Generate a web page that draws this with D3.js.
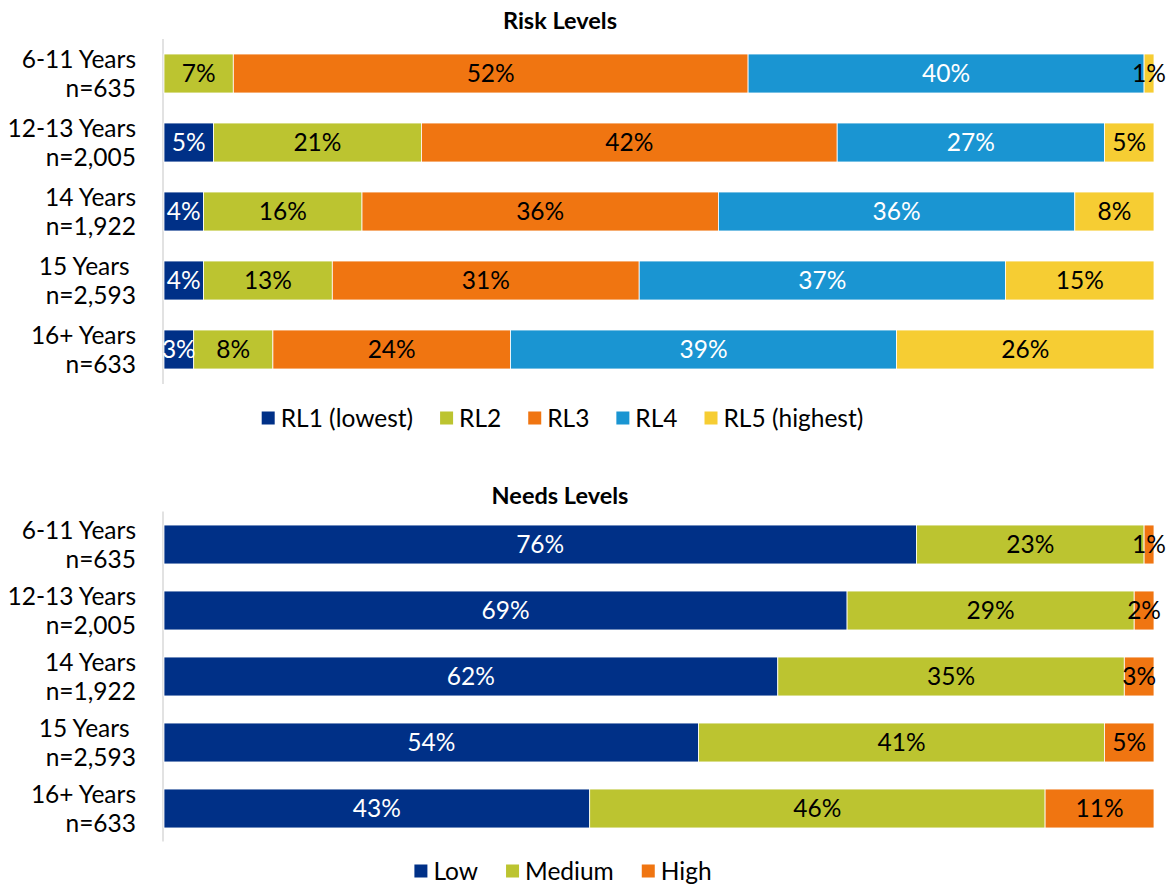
<!DOCTYPE html>
<html><head><meta charset="utf-8">
<script src="https://cdn.jsdelivr.net/npm/d3@7"></script>
<style>
body{margin:0;background:#fff;}
text{font-family:Lato,"Open Sans",sans-serif;}
</style></head>
<body><svg id="c" width="1175" height="886"></svg>
<script>
const groups = ["6-11 Years|n=635", "12-13 Years|n=2,005", "14 Years|n=1,922", "15 Years |n=2,593", "16+ Years|n=633"];

const riskSeries = ["RL1 (lowest)", "RL2", "RL3", "RL4", "RL5 (highest)"];
const riskColors = ["#003087", "#BCC430", "#F07511", "#1A95D2", "#F6CD33"];
const riskLabelColors = ["#fff", "#000", "#000", "#fff", "#000"];
const riskRL1 = [0, 5, 4, 4, 3];
const riskRL2 = [7, 21, 16, 13, 8];
const riskRL3 = [52, 42, 36, 31, 24];
const riskRL4 = [40, 27, 36, 37, 39];
const riskRL5 = [1, 5, 8, 15, 26];

const needSeries = ["Low", "Medium", "High"];
const needColors = ["#003087", "#BCC430", "#F07511"];
const needLabelColors = ["#fff", "#000", "#000"];
const needLow = [76, 69, 62, 54, 43];
const needMedium = [23, 29, 35, 41, 46];
const needHigh = [1, 2, 3, 5, 11];

const svg = d3.select("#c");
const x = d3.scaleLinear().domain([0, 100]).range([164, 1154]);

function drawChart(cfg){
  const rows = groups.map((g,i)=>{
    const o = {group:g};
    cfg.series.forEach((s,j)=>o[s]=cfg.values[j][i]);
    return o;
  });
  const stack = d3.stack().keys(cfg.series)(rows);
  const y = d3.scaleBand().domain(groups).range(cfg.yRange)
    .paddingInner(cfg.pin).paddingOuter(cfg.pin/2);
  const g = svg.append("g");
  // title
  g.append("text").attr("x", cfg.titleX).attr("y", cfg.titleY)
    .attr("text-anchor","middle").attr("font-weight","bold").attr("font-size",23.5)
    .attr("fill","#000").text(cfg.title);
  // axis line
  g.append("line").attr("x1", x(0)-1).attr("x2", x(0)-1)
    .attr("y1", cfg.yRange[0]).attr("y2", cfg.yRange[1])
    .attr("stroke","#d9d9d9").attr("stroke-width",1.5);
  // category labels
  const yl = g.append("g");
  groups.forEach(gr=>{
    const parts = gr.split("|");
    const cy = y(gr)+y.bandwidth()/2;
    const t = yl.append("text").attr("x",136).attr("text-anchor","end")
      .attr("font-size",24.5).attr("fill","#000").style("white-space","pre");
    t.append("tspan").attr("x",136).attr("y",cy-14.5).attr("dy","0.35em").text(parts[0]);
    t.append("tspan").attr("x",136).attr("y",cy+14.5).attr("dy","0.35em").text(parts[1]);
  });
  // bars
  stack.forEach((layer,j)=>{
    const lg = g.append("g");
    lg.selectAll("rect").data(layer.filter(d=>d[1]-d[0]>0)).join("rect")
      .attr("x", d=>x(d[0])).attr("width", d=>x(d[1])-x(d[0]))
      .attr("y", d=>y(d.data.group)).attr("height", y.bandwidth())
      .attr("fill", cfg.colors[j]).attr("stroke","#fff").attr("stroke-width",0.8);
  });
  stack.forEach((layer,j)=>{
    const lg = g.append("g");
    lg.selectAll("text").data(layer.filter(d=>d[1]-d[0]>0)).join("text")
      .attr("x", d=>(x(d[0])+x(d[1]))/2)
      .attr("y", d=>y(d.data.group)+y.bandwidth()/2).attr("dy","0.36em")
      .attr("text-anchor","middle").attr("font-size",24.5)
      .attr("fill", cfg.labelColors[j]).text(d=>(d[1]-d[0])+"%");
  });
  // legend
  const leg = g.append("g");
  let cx = 0;
  cfg.series.forEach((s,j)=>{
    const it = leg.append("g");
    it.append("rect").attr("x",cx).attr("y",-6.5).attr("width",13).attr("height",13).attr("fill",cfg.colors[j]);
    const t = it.append("text").attr("x",cx+19).attr("y",0).attr("dy","0.35em")
      .attr("font-size",24.5).attr("fill","#000").text(s);
    cx += 19 + t.node().getComputedTextLength() + cfg.legGap;
  });
  const total = cx - cfg.legGap;
  leg.attr("transform", `translate(${cfg.legCenter - total/2},${cfg.legY})`);
}

drawChart({title:"Risk Levels", titleX:560, titleY:29, series:riskSeries, colors:riskColors,
  labelColors:riskLabelColors, values:[riskRL1,riskRL2,riskRL3,riskRL4,riskRL5],
  yRange:[39,384], pin:0.435, legY:418, legCenter:562.5, legGap:27});
drawChart({title:"Needs Levels", titleX:560, titleY:504, series:needSeries, colors:needColors,
  labelColors:needLabelColors, values:[needLow,needMedium,needHigh],
  yRange:[511.5,841.5], pin:0.41, legY:871, legCenter:563, legGap:28});
</script></body></html>
